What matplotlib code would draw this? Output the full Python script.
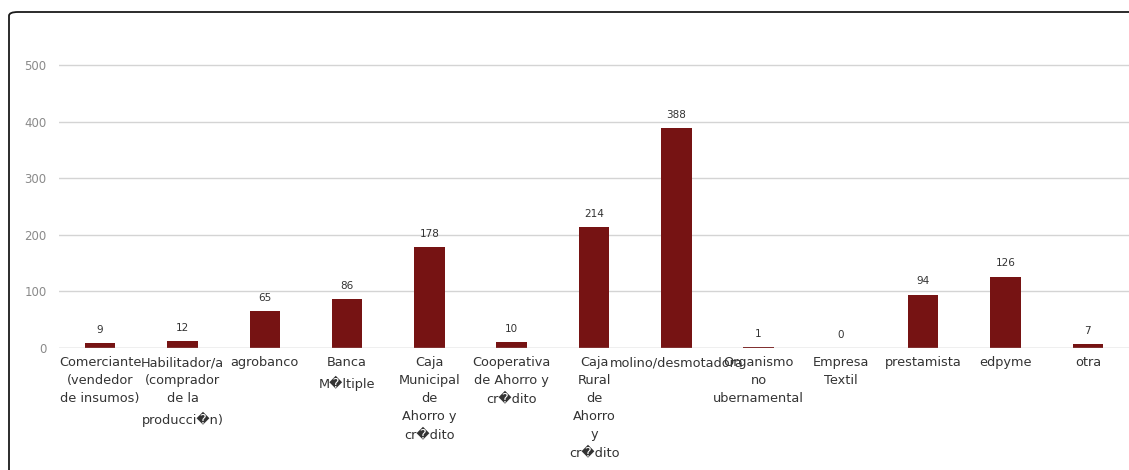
import matplotlib.pyplot as plt
from matplotlib.patches import FancyBboxPatch

# categorias y conteos
categorias = [
    "Comerciante\n(vendedor\nde insumos)",
    "Habilitador/a\n(comprador\nde la\nproducci\ufffdn)",
    "agrobanco",
    "Banca\nM\ufffdltiple",
    "Caja\nMunicipal\nde\nAhorro y\ncr\ufffddito",
    "Cooperativa\nde Ahorro y\ncr\ufffddito",
    "Caja\nRural\nde\nAhorro\ny\ncr\ufffddito",
    "molino/desmotadora",
    "Organismo\nno\nubernamental",
    "Empresa\nTextil",
    "prestamista",
    "edpyme",
    "otra",
]
valores = [9, 12, 65, 86, 178, 10, 214, 388, 1, 0, 94, 126, 7]
yticks = [0, 100, 200, 300, 400, 500]

fig = plt.figure(figsize=(11.29, 4.70), dpi=100)
fig.patch.set_facecolor("white")

# marco redondeado del recuadro
caja = FancyBboxPatch((9 / 1129, -0.2), 1.2, 1.2 - 12 / 470,
                      boxstyle="round,pad=0,rounding_size=0.008",
                      transform=fig.transFigure, fill=False,
                      edgecolor="#1a1a1a", linewidth=1.3, clip_on=False)
fig.add_artist(caja)

ax = fig.add_axes([59 / 1129, 122 / 470, 1 - 59 / 1129, 317 / 470])
x = range(len(valores))
ax.bar(x, valores, width=0.37, color="#761313", zorder=3)

for xi, v in zip(x, valores):
    ax.annotate(str(v), (xi, v), xytext=(0, 6), textcoords="offset points",
                ha="center", va="bottom", fontsize=7.5, color="#333333")

ax.set_xlim(-0.5, len(valores) - 0.5)
ax.set_ylim(0, 560)
ax.set_yticks(yticks)
ax.set_yticklabels([str(t) for t in yticks], fontsize=8.5, color="#8a8a8a")
ax.set_xticks(list(x))
ax.set_xticklabels(categorias, fontsize=9.3, color="#333333", linespacing=1.5)
ax.tick_params(axis="both", length=0)
ax.tick_params(axis="y", pad=9)
ax.tick_params(axis="x", pad=6)

for t in yticks[1:]:
    ax.axhline(t, color="#d4d4d4", linewidth=1, zorder=1)
ax.axhline(0, color="#b0b0b0", linewidth=1, zorder=4)

for s in ax.spines.values():
    s.set_visible(False)
ax.set_facecolor("none")

fig.savefig("out.png", dpi=100)
